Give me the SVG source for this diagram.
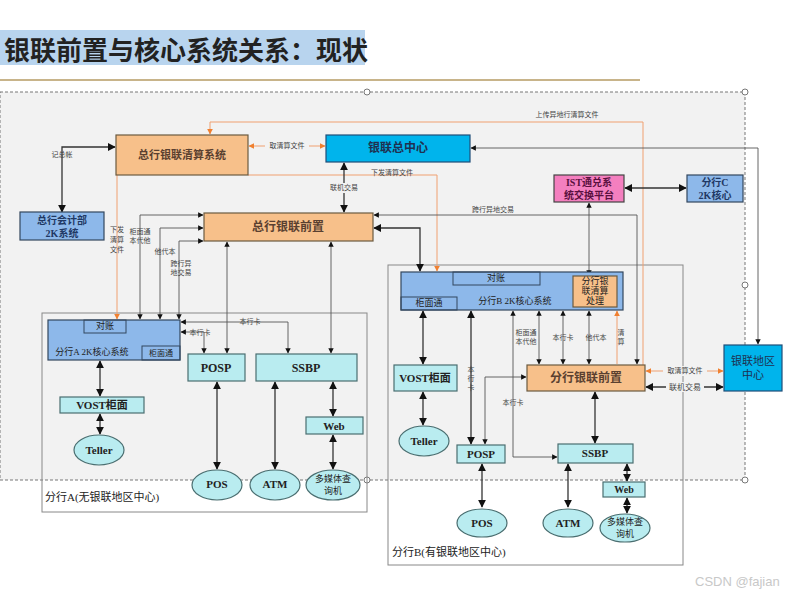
<svg xmlns="http://www.w3.org/2000/svg" width="800" height="600" viewBox="0 0 800 600">
<style>
text{font-family:"Liberation Serif","Noto Sans CJK SC",serif;fill:#222}
.t{font-size:12px;text-anchor:middle;dominant-baseline:central}
.tb{font-size:12px;font-weight:bold;text-anchor:middle;dominant-baseline:central}
.s{font-size:7px;fill:#444;text-anchor:middle;dominant-baseline:central}
.or{fill:#f7c08a;stroke:#6b5a40;stroke-width:1.2}
.bl{fill:#8db8ea;stroke:#33475e;stroke-width:1.2}
.cy{fill:#00b4ec;stroke:#1f4e79;stroke-width:1.2}
.lc{fill:#b9ecf0;stroke:#4a6e70;stroke-width:1.2}
.k{fill:none;stroke:#333;stroke-width:1.3}
.g{fill:none;stroke:#555;stroke-width:0.9}
.o{fill:none;stroke:#f0a070;stroke-width:1}
</style>
<defs>
<marker id="a" viewBox="0 0 10 10" refX="9" refY="5" markerWidth="6" markerHeight="6" orient="auto-start-reverse"><path d="M0,0L10,5L0,10z" fill="#111"/></marker>
<marker id="ao" viewBox="0 0 10 10" refX="9" refY="5" markerWidth="6" markerHeight="6" orient="auto-start-reverse"><path d="M0,0L10,5L0,10z" fill="#f08030"/></marker>
</defs>
<rect width="800" height="600" fill="#fff"/>
<rect x="0" y="30" width="365" height="35" fill="#b8d4ee"/>
<text x="4" y="48" style="font-size:26px;font-weight:bold;dominant-baseline:central;font-family:'Noto Sans CJK SC',sans-serif">银联前置与核心系统关系：现状</text>
<line x1="0" y1="80" x2="640" y2="80" stroke="#c8b48a" stroke-width="2"/>
<rect x="0" y="92" width="745" height="388" fill="#f2f2f2" stroke="#777" stroke-dasharray="3,2"/>
<g fill="#fff" stroke="#777"><circle cx="367" cy="92" r="3"/><circle cx="745" cy="92" r="3"/><circle cx="745" cy="285" r="3"/><circle cx="367" cy="480" r="3"/><circle cx="745" cy="480" r="3"/></g>
<rect id="boxA" x="42" y="313" width="325" height="199" fill="none" stroke="#888"/>
<rect id="boxB" x="388" y="265" width="295" height="300" fill="none" stroke="#888"/>
<text x="45" y="497" style="font-size:11px;dominant-baseline:central">分行A(无银联地区中心)</text>
<text x="392" y="552" style="font-size:11px;dominant-baseline:central">分行B(有银联地区中心)</text>
<g id="connectors">
<path class="k" d="M115,147H62V212" marker-start="url(#a)" marker-end="url(#a)"/>
<text class="s" x="62" y="155" style="fill:#444">记总帐</text>
<path class="o" d="M643,365V122H210V134" marker-end="url(#ao)"/>
<text class="s" x="567" y="115">上传异地行清算文件</text>
<path class="o" d="M249,146H325" marker-start="url(#ao)" marker-end="url(#ao)"/>
<rect x="265" y="141" width="44" height="10" fill="#f2f2f2"/><text class="s" x="287" y="146">取清算文件</text>
<path class="o" d="M248,175H437V271" marker-end="url(#ao)"/>
<text class="s" x="392" y="173">下发清算文件</text>
<path class="o" d="M117,175V319" marker-end="url(#ao)"/>
<text class="s" x="117" y="230">下发</text><text class="s" x="117" y="240">清算</text><text class="s" x="117" y="250">文件</text>
<path class="k" d="M344,163V212" marker-start="url(#a)" marker-end="url(#a)"/>
<rect x="328" y="183" width="32" height="10" fill="#f2f2f2"/><text class="s" x="344" y="188">联机交易</text>
<path class="g" d="M203,215H140V319" marker-start="url(#a)" marker-end="url(#a)"/>
<text class="s" x="140" y="232">柜面通</text><text class="s" x="140" y="241">本代他</text>
<path class="g" d="M203,228H160V319" marker-start="url(#a)" marker-end="url(#a)"/>
<text class="s" x="165" y="252">他代本</text>
<path class="g" d="M203,241H179V319" marker-start="url(#a)" marker-end="url(#a)"/>
<text class="s" x="181" y="264">跨行异</text><text class="s" x="181" y="273">地交易</text>
<path class="g" d="M227,242V353" marker-start="url(#a)" marker-end="url(#a)"/>
<path class="g" d="M331,242V353" marker-start="url(#a)" marker-end="url(#a)"/>
<path class="g" d="M181,322H288V353" marker-start="url(#a)" marker-end="url(#a)"/>
<text class="s" x="250" y="322" style="fill:#444">本行卡</text>
<path class="g" d="M181,332H204V353" marker-start="url(#a)" marker-end="url(#a)"/>
<text class="s" x="200" y="333">本行卡</text>
<path class="k" d="M100,361V396" marker-start="url(#a)" marker-end="url(#a)"/>
<path class="k" d="M100,414V434" marker-start="url(#a)" marker-end="url(#a)"/>
<path class="k" d="M217,382V469" marker-start="url(#a)" marker-end="url(#a)"/>
<path class="k" d="M275,382V469" marker-start="url(#a)" marker-end="url(#a)"/>
<path class="k" d="M333,382V416" marker-start="url(#a)" marker-end="url(#a)"/>
<path class="k" d="M333,435V469" marker-start="url(#a)" marker-end="url(#a)"/>
<path class="k" d="M374,228H420V271" marker-start="url(#a)" marker-end="url(#a)"/>
<path class="g" d="M374,215H637V364" marker-start="url(#a)" marker-end="url(#a)"/>
<text class="s" x="493" y="210">跨行异地交易</text>
<path class="g" d="M471,148H758V344" marker-start="url(#a)" marker-end="url(#a)"/>
<path class="k" d="M625,188H686" marker-start="url(#a)" marker-end="url(#a)"/>
<path class="g" d="M589,203V275" marker-start="url(#a)" marker-end="url(#a)"/>
<path class="k" d="M423,311V364" marker-start="url(#a)" marker-end="url(#a)"/>
<path class="k" d="M471,311V444" marker-start="url(#a)" marker-end="url(#a)"/>
<text class="s" x="471" y="370">本</text><text class="s" x="471" y="379">行</text><text class="s" x="471" y="388">卡</text>
<path class="g" d="M513,311V457H557" marker-start="url(#a)" marker-end="url(#a)"/>
<text class="s" x="513" y="403">本行卡</text>
<path class="g" d="M485,444V377H526" marker-start="url(#a)" marker-end="url(#a)"/>
<path class="g" d="M539,311V364" marker-start="url(#a)" marker-end="url(#a)"/>
<text class="s" x="526" y="333">柜面通</text><text class="s" x="526" y="342">本代他</text>
<path class="g" d="M563,311V364" marker-start="url(#a)" marker-end="url(#a)"/>
<text class="s" x="563" y="338">本行卡</text>
<path class="g" d="M589,311V364" marker-start="url(#a)" marker-end="url(#a)"/>
<text class="s" x="596" y="338">他代本</text>
<path class="o" d="M617,364V311" marker-end="url(#ao)"/>
<text class="s" x="621" y="333">清</text><text class="s" x="621" y="342">算</text>
<path class="o" d="M646,371H723" marker-start="url(#ao)" marker-end="url(#ao)"/>
<rect x="663" y="366" width="44" height="10" fill="#f2f2f2"/><text class="s" x="685" y="371">取清算文件</text>
<path class="k" d="M646,387H723" marker-start="url(#a)" marker-end="url(#a)"/>
<rect x="666" y="382" width="38" height="10" fill="#f2f2f2"/><text class="s" x="685" y="387" style="font-size:8px">联机交易</text>
<path class="k" d="M595,392V443" marker-start="url(#a)" marker-end="url(#a)"/>
<path class="k" d="M423,392V425" marker-start="url(#a)" marker-end="url(#a)"/>
<path class="k" d="M482,464V507" marker-start="url(#a)" marker-end="url(#a)"/>
<path class="k" d="M568,464V507" marker-start="url(#a)" marker-end="url(#a)"/>
<path class="k" d="M627,464V481" marker-start="url(#a)" marker-end="url(#a)"/>
<path class="k" d="M627,498V513" marker-start="url(#a)" marker-end="url(#a)"/>
</g>
<g id="n-clear"><rect class="or" x="116" y="135" width="132" height="40"/><text class="tb" x="182" y="155" style="font-size:11px;fill:#5a4030">总行银联清算系统</text></g>
<g id="n-center"><rect class="cy" x="326" y="135" width="144" height="27"/><text class="tb" x="398" y="148" style="fill:#1f3050">银联总中心</text></g>
<g id="n-acct"><rect class="bl" x="20" y="212" width="84" height="28"/><text class="tb" x="62" y="220" style="font-size:10px;fill:#1f3864">总行会计部</text><text class="tb" x="62" y="233" style="font-size:10px;fill:#1f3864">2K系统</text></g>
<g id="n-front"><rect class="or" x="204" y="213" width="169" height="28"/><text class="tb" x="288" y="227" style="fill:#5a4030">总行银联前置</text></g>
<g id="n-ist"><rect x="554" y="175" width="70" height="27" fill="#f47fbf" stroke="#444" stroke-width="1.2"/><text class="tb" x="589" y="182" style="font-size:10px;fill:#5a1040">IST通兑系</text><text class="tb" x="589" y="195" style="font-size:10px;fill:#5a1040">统交换平台</text></g>
<g id="n-c"><rect class="bl" x="687" y="175" width="56" height="27"/><text class="tb" x="715" y="182" style="font-size:10px;fill:#1f3864">分行C</text><text class="tb" x="715" y="195" style="font-size:10px;fill:#1f3864">2K核心</text></g>
<g id="n-acore"><rect class="bl" x="48" y="320" width="132" height="40"/><rect x="84" y="320" width="42" height="13" fill="none" stroke="#33475e"/><text class="t" x="105" y="326" style="font-size:9px">对账</text><rect x="142" y="346" width="38" height="14" fill="none" stroke="#33475e"/><text class="t" x="161" y="353" style="font-size:8px">柜面通</text><text class="t" x="92" y="352" style="font-size:9px">分行A 2K核心系统</text></g>
<g id="n-aposp"><rect class="lc" x="188" y="354" width="57" height="27"/><text class="tb" x="216" y="368">POSP</text></g>
<g id="n-assbp"><rect class="lc" x="256" y="354" width="101" height="27"/><text class="tb" x="306" y="368">SSBP</text></g>
<g id="n-avost"><rect class="lc" x="60" y="397" width="84" height="16"/><text class="tb" x="102" y="405" style="font-size:11px">VOST柜面</text></g>
<g id="n-ateller"><ellipse class="lc" cx="99" cy="450" rx="25" ry="15"/><text class="tb" x="99" y="450" style="font-size:11px">Teller</text></g>
<g id="n-aweb"><rect class="lc" x="306" y="417" width="57" height="17"/><text class="tb" x="334" y="426" style="font-size:11px">Web</text></g>
<g id="n-apos"><ellipse class="lc" cx="217" cy="485" rx="25" ry="15"/><text class="tb" x="217" y="484" style="font-size:11px">POS</text></g>
<g id="n-aatm"><ellipse class="lc" cx="275" cy="485" rx="25" ry="15"/><text class="tb" x="275" y="484" style="font-size:11px">ATM</text></g>
<g id="n-amm"><ellipse class="lc" cx="333" cy="485" rx="27" ry="15"/><text class="t" x="333" y="479" style="font-size:9px">多媒体查</text><text class="t" x="333" y="491" style="font-size:9px">询机</text></g>
<g id="n-bcore"><rect class="bl" x="401" y="272" width="222" height="38"/><rect x="453" y="272" width="87" height="13" fill="none" stroke="#33475e"/><text class="t" x="496" y="278" style="font-size:9px">对账</text><rect x="401" y="297" width="56" height="13" fill="none" stroke="#33475e"/><text class="t" x="429" y="303" style="font-size:9px">柜面通</text><text class="t" x="515" y="301" style="font-size:9px">分行B 2K核心系统</text>
<rect class="or" x="573" y="276" width="44" height="31"/><text class="t" x="595" y="281" style="font-size:9px">分行银</text><text class="t" x="595" y="291" style="font-size:9px">联清算</text><text class="t" x="595" y="301" style="font-size:9px">处理</text></g>
<g id="n-bvost"><rect class="lc" x="394" y="365" width="63" height="26"/><text class="tb" x="425" y="378" style="font-size:11px">VOST柜面</text></g>
<g id="n-bteller"><ellipse class="lc" cx="424" cy="441" rx="25" ry="15"/><text class="tb" x="424" y="441" style="font-size:11px">Teller</text></g>
<g id="n-bfront"><rect class="or" x="527" y="365" width="118" height="26"/><text class="tb" x="586" y="378" style="fill:#5a4030">分行银联前置</text></g>
<g id="n-bposp"><rect class="lc" x="457" y="445" width="48" height="18"/><text class="tb" x="481" y="454" style="font-size:11px">POSP</text></g>
<g id="n-bssbp"><rect class="lc" x="558" y="444" width="75" height="19"/><text class="tb" x="595" y="453" style="font-size:11px">SSBP</text></g>
<g id="n-bweb"><rect class="lc" x="603" y="482" width="42" height="15"/><text class="tb" x="624" y="489" style="font-size:10px">Web</text></g>
<g id="n-bpos"><ellipse class="lc" cx="482" cy="523" rx="25" ry="14"/><text class="tb" x="482" y="523" style="font-size:11px">POS</text></g>
<g id="n-batm"><ellipse class="lc" cx="568" cy="523" rx="25" ry="14"/><text class="tb" x="568" y="523" style="font-size:11px">ATM</text></g>
<g id="n-bmm"><ellipse class="lc" cx="625" cy="528" rx="25" ry="14"/><text class="t" x="625" y="522" style="font-size:9px">多媒体查</text><text class="t" x="625" y="534" style="font-size:9px">询机</text></g>
<g id="n-region"><rect class="cy" x="724" y="345" width="58" height="46"/><text class="t" x="753" y="361" style="font-size:11px;fill:#1f3050">银联地区</text><text class="t" x="753" y="375" style="font-size:11px;fill:#1f3050">中心</text></g>
<text x="695" y="586" style="font-size:13px;fill:#c8c8c8;font-family:'Liberation Sans',sans-serif">CSDN @fajian</text>
</svg>
